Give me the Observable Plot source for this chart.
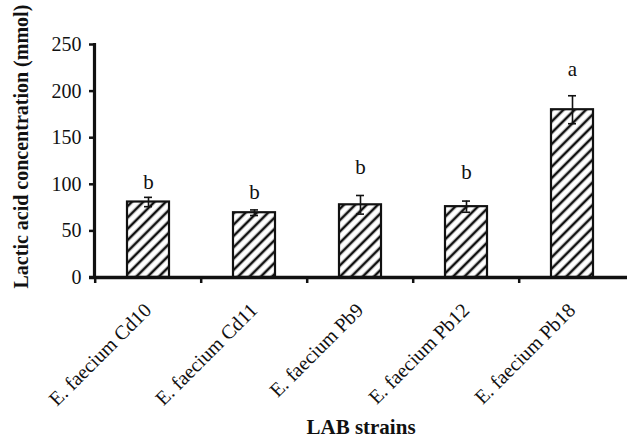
<!DOCTYPE html>
<html>
<head>
<meta charset="utf-8">
<script src="https://cdn.jsdelivr.net/npm/d3@7"></script>
<script src="https://cdn.jsdelivr.net/npm/@observablehq/plot@0.6"></script>
<style>
  html, body { margin: 0; padding: 0; background: #fff; }
  svg { display: block; }
</style>
</head>
<body>
<div id="chart"></div>
<script>
const categories = ["E. faecium Cd10", "E. faecium Cd11", "E. faecium Pb9", "E. faecium Pb12", "E. faecium Pb18"];
const means = [81, 69.5, 78, 76, 180];
const errors = [5, 3, 10, 6, 15];
const letters = ["b", "b", "b", "b", "a"];
const letterY = [102, 91, 118, 113, 223];
const yTicks = [0, 50, 100, 150, 200, 250];

const data = categories.map((c, i) => ({
  strain: c, mean: means[i], err: errors[i], letter: letters[i], ly: letterY[i]
}));

const W = 627, H = 442, ML = 94, MR = 0, MT = 44, MB = 165;
const step = (W - ML - MR) / categories.length;
const font = "'Liberation Serif', 'Times New Roman', serif";

const plot = Plot.plot({
  width: W, height: H,
  marginLeft: ML, marginRight: MR, marginTop: MT, marginBottom: MB,
  style: { fontFamily: font, color: "#111", background: "#fff", overflow: "visible" },
  x: { domain: categories, axis: null, paddingInner: 0.6, paddingOuter: 0.3 },
  y: { domain: [0, 250], axis: null },
  marks: [
    Plot.barY(data, { x: "strain", y: "mean", fill: "url(#hatch)", stroke: "#111", strokeWidth: 2.2 }),
    Plot.ruleX(data, { x: "strain", y1: d => d.mean - d.err, y2: d => d.mean + d.err, stroke: "#111", strokeWidth: 1.6 }),
    Plot.tickY(data, { x: "strain", y: d => d.mean + d.err, stroke: "#111", strokeWidth: 1.6, insetLeft: 17, insetRight: 17 }),
    Plot.tickY(data, { x: "strain", y: d => d.mean - d.err, stroke: "#111", strokeWidth: 1.6, insetLeft: 17, insetRight: 17 }),
    Plot.text(data, { x: "strain", y: "ly", text: "letter", fontSize: 21, fill: "#111" }),
    Plot.axisY({ ticks: yTicks, tickSize: 5, strokeWidth: 2.5, tickFormat: () => "", label: null }),
    Plot.text(yTicks, { y: d => d, frameAnchor: "left", dx: -13, textAnchor: "end", text: d => String(d), fontSize: 20, fill: "#111" }),
    Plot.frame({ anchor: "left", strokeWidth: 3.2, stroke: "#111" }),
    Plot.ruleY([0], { stroke: "#111", strokeWidth: 3.5, insetLeft: -5 }),
    Plot.axisX(categories, { tickSize: 6, tickFormat: () => "", dx: -step / 2, strokeWidth: 2.5, label: null }),
    Plot.text(categories, { x: d => d, y: 0, text: d => d, rotate: -45, textAnchor: "end", lineAnchor: "bottom", dx: 4, dy: 34, fontSize: 20, fill: "#111" }),
    Plot.text(["LAB strains"], { frameAnchor: "bottom", dy: 156, text: d => d, fontSize: 21, fontWeight: "bold", fill: "#111" }),
    Plot.text(["Lactic acid concentration (mmol)"], { frameAnchor: "bottom-left", dx: -67, dy: 11, rotate: -90, textAnchor: "start", text: d => d, fontSize: 20, fontWeight: "bold", fill: "#111" })
  ]
});

const svgNS = "http://www.w3.org/2000/svg";
const defs = document.createElementNS(svgNS, "defs");
const pat = document.createElementNS(svgNS, "pattern");
pat.setAttribute("id", "hatch");
pat.setAttribute("width", "8");
pat.setAttribute("height", "8");
pat.setAttribute("patternUnits", "userSpaceOnUse");
pat.setAttribute("patternTransform", "rotate(45)");
const bg = document.createElementNS(svgNS, "rect");
bg.setAttribute("width", "8"); bg.setAttribute("height", "8"); bg.setAttribute("fill", "#fff");
const ln = document.createElementNS(svgNS, "line");
ln.setAttribute("x1", "4"); ln.setAttribute("y1", "0"); ln.setAttribute("x2", "4"); ln.setAttribute("y2", "8");
ln.setAttribute("stroke", "#111"); ln.setAttribute("stroke-width", "2.6");
pat.appendChild(bg); pat.appendChild(ln); defs.appendChild(pat);
plot.insertBefore(defs, plot.firstChild);

document.getElementById("chart").appendChild(plot);
</script>
</body>
</html>
